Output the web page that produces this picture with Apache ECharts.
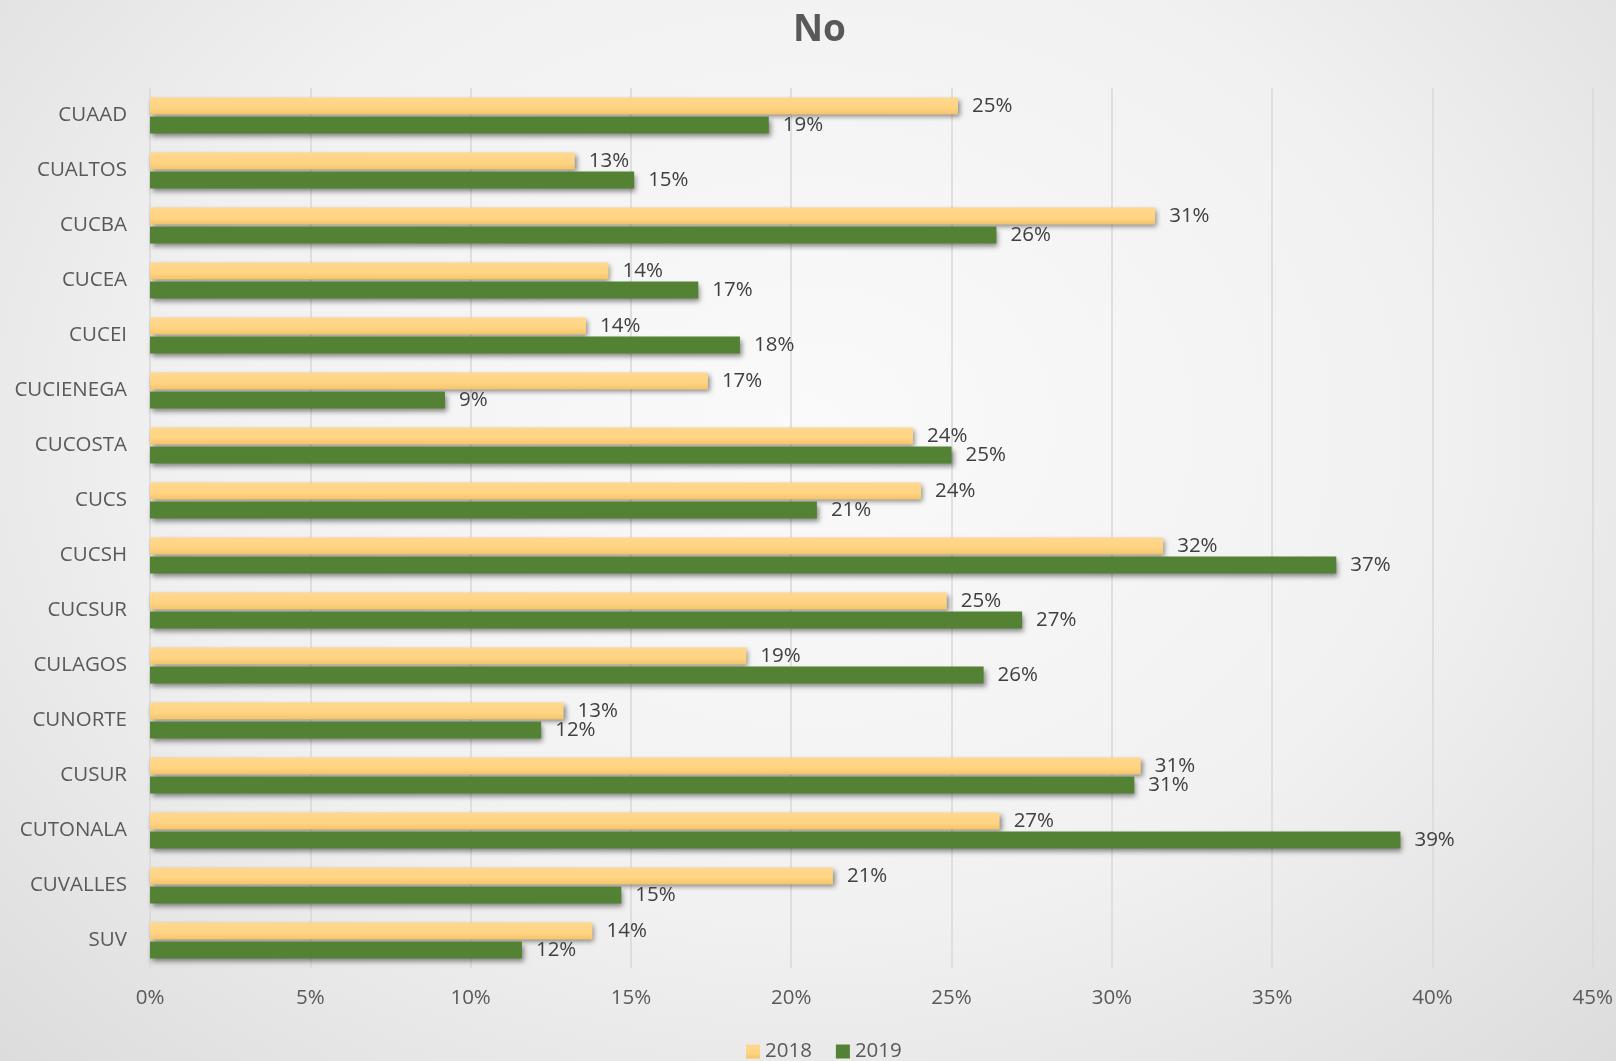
<!DOCTYPE html>
<html>
<head>
<meta charset="utf-8">
<script src="https://cdn.jsdelivr.net/npm/echarts@6/dist/echarts.min.js"></script>
<style>
html,body{margin:0;padding:0;}
#chart{width:1616px;height:1061px;background:radial-gradient(ellipse at 50% 40%, #fafafa 0%, #f1f1f1 55%, #dcdcdc 100%);}
</style>
</head>
<body>
<div id="chart"></div>
<script>
const categories = ["CUAAD","CUALTOS","CUCBA","CUCEA","CUCEI","CUCIENEGA","CUCOSTA","CUCS","CUCSH","CUCSUR","CULAGOS","CUNORTE","CUSUR","CUTONALA","CUVALLES","SUV"];
const values2018 = [25.2,13.25,31.35,14.3,13.6,17.4,23.8,24.05,31.6,24.85,18.6,12.9,30.9,26.5,21.3,13.8];
const values2019 = [19.3,15.1,26.4,17.1,18.4,9.2,25.0,20.8,37.0,27.2,26.0,12.2,30.7,39.0,14.7,11.6];
const seriesNames = ["2018","2019"];
const xTicks = {min:0,max:45,interval:5};

const FONT = "Open Sans";
const chart = echarts.init(document.getElementById('chart'), null, {renderer:'canvas'});
const labelCfg = {
  show:true, position:'right', distance:14,
  color:'#404040', fontSize:20.5, fontFamily:FONT,
  formatter: p => Math.round(p.value) + '%'
};
const shadow = {shadowColor:'rgba(0,0,0,0.45)', shadowBlur:5, shadowOffsetX:2, shadowOffsetY:3};
chart.setOption({
  backgroundColor:'transparent',
  title:{text:'No', left:788, top:7,
    textStyle:{fontFamily:FONT, fontSize:37, fontWeight:'bold', color:'#595959'}},
  legend:{top:1036, left:741, itemWidth:14, itemHeight:14, itemGap:24,
    icon:'rect',
    textStyle:{fontFamily:FONT, fontSize:20.5, color:'#595959'},
    data:seriesNames},
  grid:{left:150, right:23, top:88, bottom:93, containLabel:false},
  xAxis:{type:'value', min:xTicks.min, max:xTicks.max, interval:xTicks.interval,
    axisLine:{show:false}, axisTick:{show:false},
    splitLine:{lineStyle:{color:'#d9d9d9', width:1.5}},
    axisLabel:{formatter:'{value}%', margin:20, fontFamily:FONT, fontSize:20.5, color:'#595959'}},
  yAxis:{type:'category', data:categories, inverse:true,
    axisLine:{show:false}, axisTick:{show:false},
    axisLabel:{margin:23, fontFamily:FONT, fontSize:20.5, color:'#595959'}},
  series:[
    {name:seriesNames[0], type:'bar', data:values2018, barWidth:17, barGap:'12%',
      itemStyle:Object.assign({color:new echarts.graphic.LinearGradient(0,0,0,1,[
        {offset:0,color:'#ffd88e'},{offset:0.6,color:'#ffd483'},{offset:1,color:'#f3c46c'}])}, shadow),
      label:labelCfg},
    {name:seriesNames[1], type:'bar', data:values2019, barWidth:17,
      itemStyle:Object.assign({color:'#548235'}, shadow),
      label:labelCfg}
  ]
});
</script>
</body>
</html>
